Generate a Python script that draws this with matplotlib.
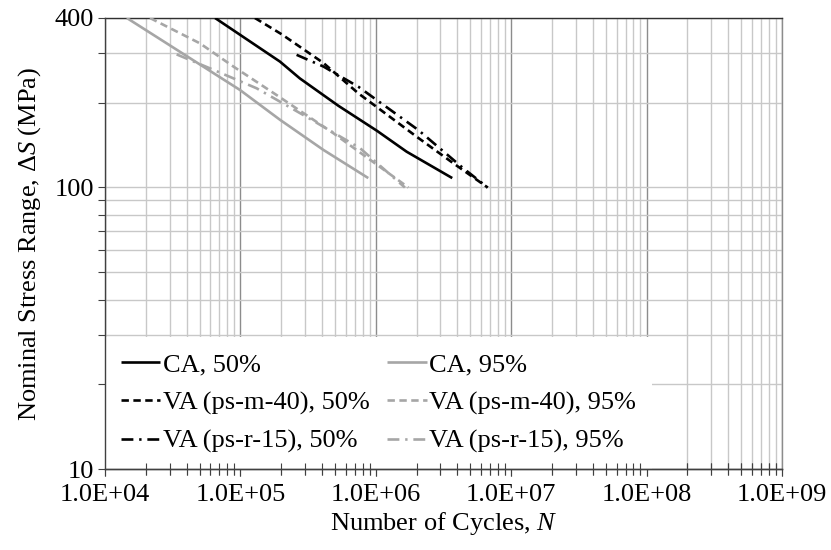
import matplotlib
matplotlib.use("Agg")
import matplotlib.pyplot as plt
from matplotlib.ticker import FixedLocator, FixedFormatter, LogLocator, NullFormatter

plt.rcParams['font.family'] = ['Liberation Serif', 'DejaVu Serif']
plt.rcParams['mathtext.fontset'] = 'custom'
plt.rcParams['mathtext.rm'] = 'Liberation Serif'
plt.rcParams['mathtext.it'] = 'Liberation Serif:italic'

# ---- data ----
ca50_N = [6.5e4, 1.96e5, 2.75e5, 5.3e5, 1.02e6, 1.69e6, 3.67e6]
ca50_S = [400, 280, 244, 195, 159, 134, 108]

ca95_N = [1.45e4, 9.93e4, 1.96e5, 4.1e5, 8.8e5]
ca95_S = [400, 222, 174, 136, 108]

vam50_N = [1.28e5, 2.02e5, 4.1e5, 7.43e5, 2.06e6, 3.73e6, 6.7e6]
vam50_S = [400, 350, 277, 216, 150, 122, 100]

vam95_N = [2.15e4, 5.03e4, 8.87e4, 1.85e5, 4.85e5, 1.74e6]
vam95_S = [400, 325, 269, 213, 156, 100]

var50_N = [2.6e5, 4.1e5, 7.43e5, 2.06e6, 4.43e6, 6.7e6]
var50_S = [296, 269, 228, 160, 117, 100]

var95_N = [3.38e4, 5.96e4, 1.32e5, 3.09e5, 7.64e5, 1.64e6]
var95_S = [297, 265, 225, 178, 138, 100]

x_ticks = [1e4, 1e5, 1e6, 1e7, 1e8, 1e9]
x_ticklabels = ['1.0E+04', '1.0E+05', '1.0E+06', '1.0E+07', '1.0E+08', '1.0E+09']
y_ticks = [10, 100, 400]
y_ticklabels = ['10', '100', '400']

labels_50 = ['CA, 50%', 'VA (ps-m-40), 50%', 'VA (ps-r-15), 50%']
labels_95 = ['CA, 95%', 'VA (ps-m-40), 95%', 'VA (ps-r-15), 95%']

# ---- figure ----
W, H = 831, 550
fig = plt.figure(figsize=(W / 100, H / 100), dpi=100)
pos = [105 / W, 1 - 469 / H, (782 - 105) / W, (469 - 18) / H]
ax = fig.add_axes(pos)
ax.set_xscale('log')
ax.set_yscale('log')
ax.set_xlim(1e4, 1e9)
ax.set_ylim(10, 400)

BLACK = '#000000'
GRAY = '#a6a6a6'
lw = 1.9
dash = (2.8, 1.7)
dashdot = (4.5, 2.2, 0.9, 2.2)
FS = 19

l1, = ax.plot(ca50_N, ca50_S, color=BLACK, lw=lw, solid_capstyle='butt', zorder=5)
l2, = ax.plot(ca95_N, ca95_S, color=GRAY, lw=lw, solid_capstyle='butt', zorder=4)
l3, = ax.plot(vam50_N, vam50_S, color=BLACK, lw=lw, dashes=dash, zorder=5)
l4, = ax.plot(vam95_N, vam95_S, color=GRAY, lw=lw, dashes=dash, zorder=4)
l5, = ax.plot(var50_N, var50_S, color=BLACK, lw=lw, dashes=dashdot, zorder=5)
l6, = ax.plot(var95_N, var95_S, color=GRAY, lw=lw, dashes=dashdot, zorder=4)


def setup_ticks(a):
    a.xaxis.set_major_locator(FixedLocator(x_ticks))
    a.xaxis.set_major_formatter(FixedFormatter(x_ticklabels))
    a.xaxis.set_minor_locator(LogLocator(base=10, subs=range(2, 10), numticks=50))
    a.xaxis.set_minor_formatter(NullFormatter())
    a.yaxis.set_major_locator(FixedLocator(y_ticks))
    a.yaxis.set_major_formatter(FixedFormatter(y_ticklabels))
    a.yaxis.set_minor_locator(LogLocator(base=10, subs=range(2, 10), numticks=50))
    a.yaxis.set_minor_formatter(NullFormatter())


setup_ticks(ax)
ax.grid(which='major', axis='x', color='#8c8c8c', lw=1.0)
ax.grid(which='minor', axis='x', color='#c8c8c8', lw=1.0)
ax.grid(which='both', axis='y', color='#c8c8c8', lw=1.0)
ax.set_axisbelow(True)

for s in ['left', 'bottom']:
    ax.spines[s].set_color('#404040')
    ax.spines[s].set_linewidth(1.0)
    ax.spines[s].set_zorder(8)
ax.spines['top'].set_color('#303030')
ax.spines['top'].set_linewidth(1.0)
ax.spines['right'].set_color('#8c8c8c')
ax.spines['right'].set_linewidth(1.0)

ax.tick_params(axis='x', which='major', direction='out', length=5, width=0.8,
               color='#404040', labelsize=FS, pad=6)
ax.tick_params(axis='x', which='minor', direction='inout', length=8, width=0.8,
               color='#404040')
ax.tick_params(axis='y', which='both', direction='out', length=5, width=0.8,
               color='#404040', labelsize=FS, pad=3)

ax.set_xlabel(r'Number of Cycles, $N$', fontsize=FS, labelpad=3)
ax.set_ylabel(r'Nominal Stress Range, $\Delta\mathit{S}$ (MPa)', fontsize=FS, labelpad=8)

handles = [l1, l3, l5, l2, l4, l6]
leg = ax.legend(handles, labels_50 + labels_95, ncol=2, loc='lower left',
                bbox_to_anchor=(0, 0), borderaxespad=0, frameon=True,
                fancybox=False, framealpha=1, facecolor='white', edgecolor='none',
                fontsize=FS, handlelength=1.5, handletextpad=0.1,
                columnspacing=0.65, labelspacing=0.55, borderpad=0.6)
leg.set_zorder(6)

# overlay axes so the tick marks on the x axis show over the legend
axt = fig.add_axes(pos)
axt.set_xscale('log')
axt.set_yscale('log')
axt.set_xlim(1e4, 1e9)
axt.set_ylim(10, 400)
setup_ticks(axt)
axt.patch.set_visible(False)
for s in ['left', 'top', 'right']:
    axt.spines[s].set_visible(False)
axt.spines['bottom'].set_color('#404040')
axt.spines['bottom'].set_linewidth(1.0)
axt.tick_params(axis='x', which='major', direction='out', length=5, width=0.8,
                color='#404040', labelbottom=False)
axt.tick_params(axis='x', which='minor', direction='inout', length=8, width=0.8,
                color='#404040')
axt.tick_params(axis='y', which='both', left=False, labelleft=False)

fig.savefig('out.png', dpi=100)
